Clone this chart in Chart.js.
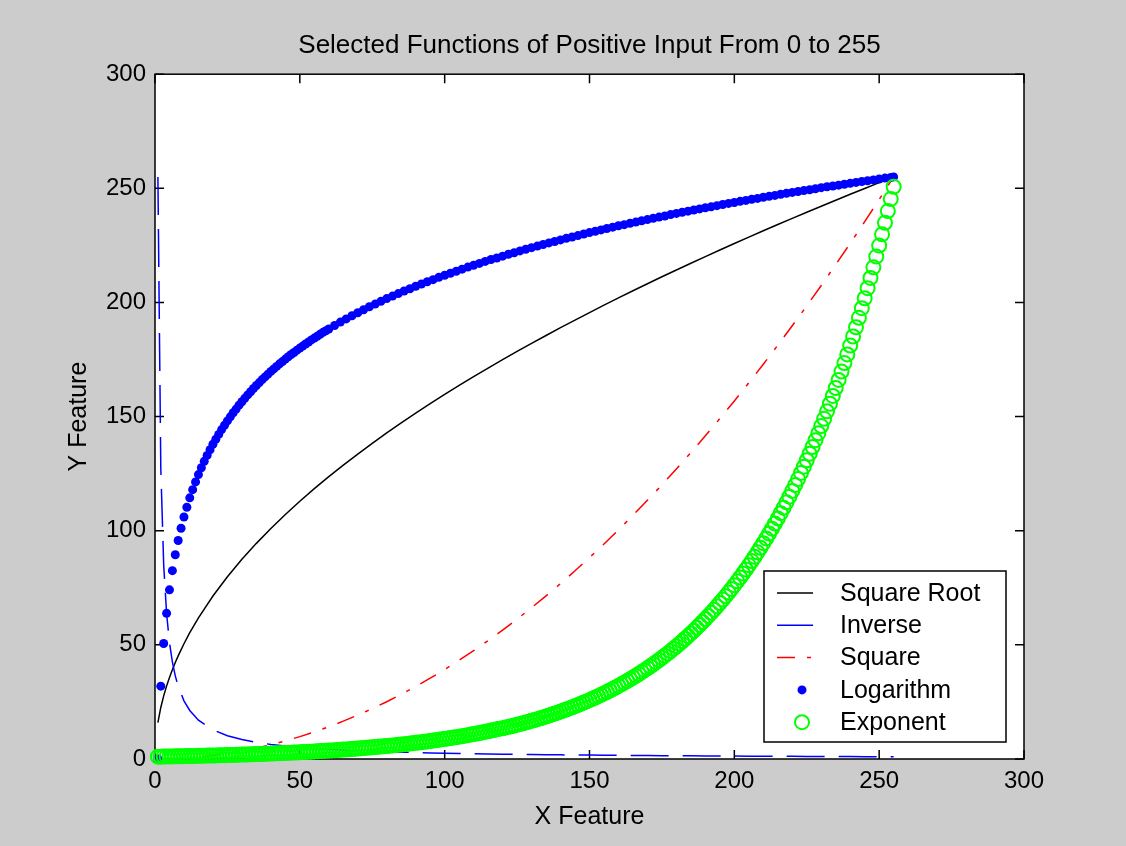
<!DOCTYPE html>
<html><head><meta charset="utf-8">
<script src="https://cdn.jsdelivr.net/npm/chart.js@4.4.1/dist/chart.umd.min.js"></script>
<style>html,body{margin:0;padding:0;background:#cccccc;overflow:hidden}#wrap{width:1126px;height:846px;position:relative}</style>
</head><body><div id="wrap"><canvas id="c" width="1126" height="846"></canvas></div>
<script>
const titleText = 'Selected Functions of Positive Input From 0 to 255';
const xTitle = 'X Feature';
const yTitle = 'Y Feature';
const axisTicks = [0, 50, 100, 150, 200, 250, 300];
const legendNames = ['Square Root', 'Inverse', 'Square', 'Logarithm', 'Exponent'];

const lineX = [1,2,3,4,5,6,7,8,10,12,15,20,25,30,35,40,45,50,55,60,65,70,75,80,85,90,95,100,105,110,115,120,125,130,135,140,145,150,155,160,165,170,175,180,185,190,195,200,205,210,215,220,225,230,235,240,245,250,255];
const sqrtY = [15.97,22.58,27.66,31.94,35.71,39.12,42.25,45.17,50.50,55.32,61.85,71.41,79.84,87.46,94.47,101.00,107.12,112.92,118.43,123.69,128.74,133.60,138.29,142.83,147.22,151.49,155.64,159.69,163.63,167.48,171.25,174.93,178.54,182.07,185.54,188.94,192.29,195.58,198.81,201.99,205.12,208.21,211.25,214.24,217.20,220.11,222.99,225.83,228.64,231.41,234.15,236.85,239.53,242.18,244.80,247.39,249.95,252.49,255];
const inverseY = [255,127.5,85,63.75,51,42.5,36.43,31.88,25.5,21.25,17,12.75,10.2,8.5,7.29,6.38,5.67,5.1,4.64,4.25,3.92,3.64,3.4,3.19,3,2.83,2.68,2.55,2.43,2.32,2.22,2.13,2.04,1.96,1.89,1.82,1.76,1.7,1.65,1.59,1.55,1.5,1.46,1.42,1.38,1.34,1.31,1.28,1.24,1.21,1.19,1.16,1.13,1.11,1.09,1.06,1.04,1.02,1];
const squareY = [0,0.02,0.04,0.06,0.1,0.14,0.19,0.25,0.39,0.56,0.88,1.57,2.45,3.53,4.8,6.27,7.94,9.8,11.86,14.12,16.57,19.22,22.06,25.1,28.33,31.76,35.39,39.22,43.24,47.45,51.86,56.47,61.27,66.27,71.47,76.86,82.45,88.24,94.22,100.39,106.76,113.33,120.1,127.06,134.22,141.57,149.12,156.86,164.8,172.94,181.27,189.8,198.53,207.45,216.57,225.88,235.39,245.1,255];

const logX = [1,2,3,4,5,6,7,8,9,10,11,12,13,14,15,16,17,18,19,20,21,22,23,24,25,26,27,28,29,30,31,32,33,34,35,36,37,38,39,40,41,42,43,44,45,46,47,48,49,50,51,52,53,54,55,56,57,58,59,60,
62,64,66,68,70,72,74,76,78,80,82,84,86,88,90,92,94,96,98,100,102,104,106,108,110,112,114,116,118,120,122,124,126,128,130,132,134,136,138,140,142,144,146,148,150,152,154,156,158,160,162,164,166,168,170,172,174,176,178,180,182,184,186,188,190,192,194,196,198,200,202,204,206,208,210,212,214,216,218,220,222,224,226,228,230,232,234,236,238,240,242,244,246,248,250,252,254,255];
const logY = [0.0,31.9,50.6,63.8,74.1,82.5,89.5,95.7,101.1,106.0,
110.3,114.4,118.0,121.4,124.6,127.6,130.4,133.0,135.5,137.9,
140.1,142.2,144.3,146.2,148.1,149.9,151.7,153.3,155.0,156.5,
158.0,159.5,160.9,162.3,163.6,164.9,166.2,167.4,168.6,169.8,
170.9,172.0,173.1,174.1,175.2,176.2,177.2,178.1,179.1,180.0,
180.9,181.8,182.7,183.6,184.4,185.2,186.1,186.9,187.6,188.4,
189.9,191.4,192.8,194.2,195.5,196.8,198.1,199.3,200.5,201.7,
202.8,203.9,205.0,206.0,207.1,208.1,209.1,210.0,211.0,211.9,
212.8,213.7,214.6,215.5,216.3,217.1,218.0,218.8,219.5,220.3,
221.1,221.8,222.6,223.3,224.0,224.7,225.4,226.1,226.7,227.4,
228.1,228.7,229.3,230.0,230.6,231.2,231.8,232.4,233.0,233.6,
234.1,234.7,235.2,235.8,236.3,236.9,237.4,237.9,238.5,239.0,
239.5,240.0,240.5,241.0,241.5,241.9,242.4,242.9,243.4,243.8,
244.3,244.7,245.2,245.6,246.1,246.5,246.9,247.4,247.8,248.2,
248.6,249.0,249.4,249.8,250.3,250.7,251.0,251.4,251.8,252.2,
252.6,253.0,253.3,253.7,254.1,254.5,254.8,255.0];

const expX = [1,2,3,4,5,6,7,8,9,10,11,12,13,14,15,16,17,18,19,20,
21,22,23,24,25,26,27,28,29,30,31,32,33,34,35,36,37,38,39,40,
41,42,43,44,45,46,47,48,49,50,51,52,53,54,55,56,57,58,59,60,
61,62,63,64,65,66,67,68,69,70,71,72,73,74,75,76,77,78,79,80,
81,82,83,84,85,86,87,88,89,90,91,92,93,94,95,96,97,98,99,100,
101,102,103,104,105,106,107,108,109,110,111,112,113,114,115,116,117,118,119,120,
121,122,123,124,125,126,127,128,129,130,131,132,133,134,135,136,137,138,139,140,
141,142,143,144,145,146,147,148,149,150,151,152,153,154,155,156,157,158,159,160,
161,162,163,164,165,166,167,168,169,170,171,172,173,174,175,176,177,178,179,180,
181,182,183,184,185,186,187,188,189,190,191,192,193,194,195,196,197,198,199,200,
201,202,203,204,205,206,207,208,209,210,211,212,213,214,215,216,217,218,219,220,
221,222,223,224,225,226,227,228,229,230,231,232,233,234,235,236,237,238,239,240,
241,242,243,244,245,246,247,248,249,250,251,252,253,254,255];
const expY = [1.02,1.04,1.07,1.09,1.11,1.14,1.16,1.19,1.22,
1.24,1.27,1.30,1.33,1.36,1.39,1.42,1.45,1.48,1.51,
1.54,1.58,1.61,1.65,1.68,1.72,1.76,1.80,1.84,1.88,
1.92,1.96,2.00,2.05,2.09,2.14,2.19,2.23,2.28,2.33,
2.39,2.44,2.49,2.55,2.60,2.66,2.72,2.78,2.84,2.90,
2.96,3.03,3.10,3.16,3.23,3.30,3.38,3.45,3.53,3.60,
3.68,3.76,3.85,3.93,4.02,4.11,4.20,4.29,4.38,4.48,
4.58,4.68,4.78,4.89,4.99,5.10,5.21,5.33,5.45,5.57,
5.69,5.81,5.94,6.07,6.20,6.34,6.48,6.62,6.77,6.92,
7.07,7.22,7.38,7.55,7.71,7.88,8.05,8.23,8.41,8.60,
8.78,8.98,9.18,9.38,9.58,9.79,10.01,10.23,10.45,10.68,
10.92,11.16,11.40,11.65,11.91,12.17,12.44,12.71,12.99,13.28,
13.46,13.76,14.06,14.36,14.68,15.00,15.33,15.67,16.01,16.36,
16.71,17.08,17.46,17.84,18.23,18.63,19.04,19.45,19.88,20.31,
20.76,21.21,21.68,22.15,22.64,23.14,23.65,24.16,24.70,25.23,
25.78,26.34,26.92,27.51,28.11,28.73,29.35,30.00,30.65,31.33,
32.02,32.72,33.44,34.17,34.92,35.67,36.45,37.25,38.07,38.91,
39.76,40.63,41.52,42.43,43.35,44.31,45.27,46.27,47.28,48.32,
49.37,50.46,51.56,52.69,53.84,55.02,56.23,57.46,58.72,60.01,
61.32,62.66,64.03,65.43,66.87,68.33,69.83,71.35,72.92,74.52,
76.14,77.82,79.52,81.26,83.04,84.86,86.72,88.61,90.55,92.54,
94.56,96.64,98.75,100.91,103.12,105.38,107.69,110.05,112.46,114.92,
117.44,120.01,122.63,125.32,128.06,130.87,133.74,136.67,139.66,142.71,
145.84,149.03,152.29,155.63,159.04,162.52,166.07,169.71,173.43,177.23,
181.11,185.08,189.14,193.28,197.50,201.84,206.25,210.77,215.39,220.10,
224.92,229.85,234.88,240.02,245.28,250.68];

function pairs(xs, ys) { return xs.map((x, i) => ({ x: x, y: ys[i] })); }

const FONT = "'Liberation Sans', Arial, Helvetica, sans-serif";
Chart.defaults.font.family = FONT;
Chart.defaults.color = '#000';

const framePlugin = {
  id: 'frame',
  beforeDraw(chart) {
    const { ctx, chartArea: a } = chart;
    ctx.save();
    ctx.fillStyle = '#ffffff';
    ctx.fillRect(a.left, a.top, a.right - a.left, a.bottom - a.top);
    ctx.restore();
  },
  beforeDatasetsDraw(chart) {
    const { ctx, chartArea: a, scales } = chart;
    const L = 9;
    ctx.save();
    ctx.strokeStyle = '#000';
    ctx.lineWidth = 1.5;
    ctx.strokeRect(a.left, a.top, a.right - a.left, a.bottom - a.top);
    ctx.beginPath();
    axisTicks.forEach(v => {
      const px = scales.x.getPixelForValue(v);
      ctx.moveTo(px, a.bottom); ctx.lineTo(px, a.bottom - L);
      ctx.moveTo(px, a.top); ctx.lineTo(px, a.top + L);
      const py = scales.y.getPixelForValue(v);
      ctx.moveTo(a.left, py); ctx.lineTo(a.left + L, py);
      ctx.moveTo(a.right, py); ctx.lineTo(a.right - L, py);
    });
    ctx.stroke();
    ctx.restore();
  },
  afterDraw(chart) {
    const { ctx, chartArea: a } = chart;
    const bw = 242, bh = 171;
    const bx = a.right - 18 - bw, by = a.bottom - 17 - bh;
    ctx.save();
    ctx.fillStyle = '#ffffff';
    ctx.fillRect(bx, by, bw, bh);
    ctx.strokeStyle = '#000';
    ctx.lineWidth = 1.5;
    ctx.strokeRect(bx, by, bw, bh);
    ctx.font = '25px ' + FONT;
    ctx.textBaseline = 'middle';
    ctx.textAlign = 'left';
    legendNames.forEach((name, i) => {
      const ds = chart.data.datasets.find(d => d.label === name);
      const ry = by + 22 + i * 32.3;
      if (ds.showLine) {
        ctx.save();
        ctx.strokeStyle = ds.borderColor;
        ctx.lineWidth = ds.borderWidth;
        ctx.setLineDash(ds.borderDash || []);
        ctx.beginPath();
        ctx.moveTo(bx + 13, ry); ctx.lineTo(bx + 49, ry);
        ctx.stroke();
        ctx.restore();
      } else {
        ctx.save();
        ctx.beginPath();
        ctx.arc(bx + 38, ry, ds.pointRadius, 0, Math.PI * 2);
        if (ds.pointBorderWidth > 0) {
          ctx.strokeStyle = ds.pointBorderColor;
          ctx.lineWidth = ds.pointBorderWidth;
          ctx.stroke();
        } else {
          ctx.fillStyle = ds.pointBackgroundColor;
          ctx.fill();
        }
        ctx.restore();
      }
      ctx.fillStyle = '#000';
      ctx.fillText(name, bx + 76, ry + 1);
    });
    ctx.restore();
  }
};

new Chart(document.getElementById('c'), {
  type: 'scatter',
  data: {
    datasets: [
      { label: 'Exponent', data: pairs(expX, expY), showLine: false, pointRadius: 7, pointBorderWidth: 2,
        pointBorderColor: '#00ff00', pointBackgroundColor: 'rgba(0,0,0,0)', borderColor: '#00ff00',
        backgroundColor: 'rgba(0,0,0,0)', order: 0, clip: false },
      { label: 'Logarithm', data: pairs(logX, logY), showLine: false, pointRadius: 4.5, pointBorderWidth: 0,
        pointBorderColor: '#0000ff', pointBackgroundColor: '#0000ff', borderColor: '#0000ff',
        backgroundColor: '#0000ff', order: 1, clip: false },
      { label: 'Square', data: pairs(lineX, squareY), showLine: true, pointRadius: 0, borderColor: '#ff0000',
        borderWidth: 1.5, borderDash: [18, 12, 4, 12], fill: false, order: 2 },
      { label: 'Inverse', data: pairs(lineX, inverseY), showLine: true, pointRadius: 0, borderColor: '#0000ff',
        borderWidth: 1.5, borderDash: [38, 14], fill: false, order: 3 },
      { label: 'Square Root', data: pairs(lineX, sqrtY), showLine: true, pointRadius: 0, borderColor: '#000000',
        borderWidth: 1.5, fill: false, order: 4 }
    ]
  },
  options: {
    responsive: false,
    animation: false,
    events: [],
    layout: { padding: { left: 0, top: 0, right: 102, bottom: 0 } },
    plugins: {
      legend: { display: false },
      tooltip: { enabled: false },
      title: { display: true, fullSize: false, text: titleText, color: '#000', font: { size: 26, weight: 'normal' },
        padding: { top: 30, bottom: 13 } }
    },
    scales: {
      x: {
        type: 'linear', min: 0, max: 300,
        afterBuildTicks: s => { s.ticks = axisTicks.map(v => ({ value: v })); },
        afterFit: s => { s.height = 87; },
        ticks: { padding: 8, color: '#000', font: { size: 24 }, maxRotation: 0, autoSkip: false },
        grid: { display: false, drawTicks: false },
        border: { display: false },
        title: { display: true, text: xTitle, color: '#000', font: { size: 25 }, padding: { top: 0, bottom: 14 } }
      },
      y: {
        type: 'linear', min: 0, max: 300,
        afterBuildTicks: s => { s.ticks = axisTicks.map(v => ({ value: v })); },
        afterFit: s => { s.width = 155; },
        ticks: { padding: 9, color: '#000', font: { size: 24 }, autoSkip: false },
        grid: { display: false, drawTicks: false },
        border: { display: false },
        title: { display: true, text: yTitle, color: '#000', font: { size: 25 }, padding: { top: 64, bottom: 0 } }
      }
    }
  },
  plugins: [framePlugin]
});
</script>
</body></html>
